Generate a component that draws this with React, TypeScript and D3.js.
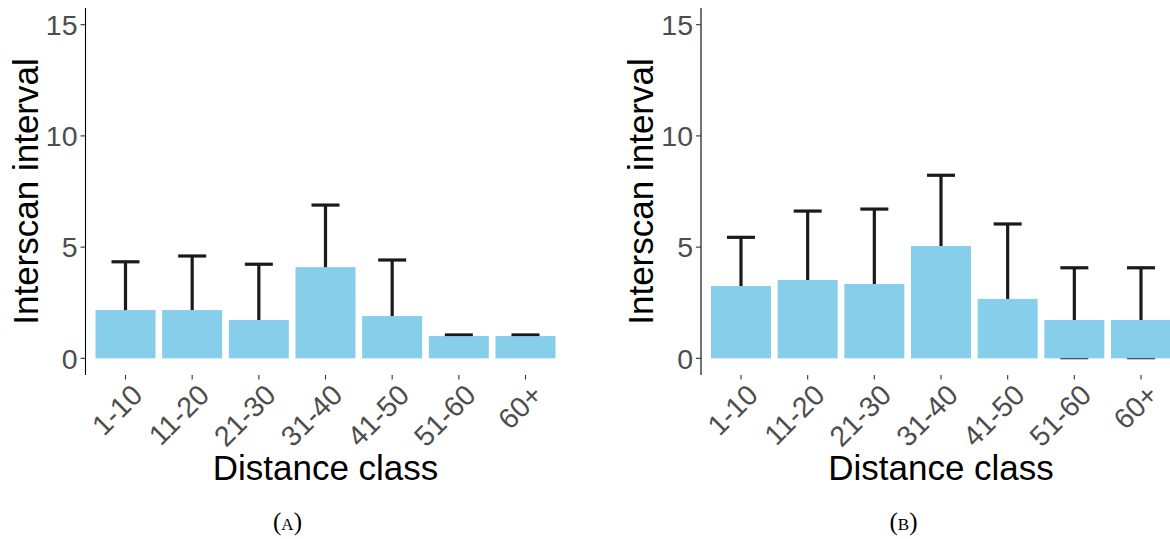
import React from "react";
import * as d3 from "d3";

const categories = ["1-10", "11-20", "21-30", "31-40", "41-50", "51-60", "60+"];

// panel A
const meanA = [2.17, 2.17, 1.72, 4.1, 1.9, 1.0, 1.0];
const upperA = [4.34, 4.6, 4.23, 6.89, 4.42, 1.05, 1.05];
const lowerA = [0.3, 0.2, 0.2, 1.3, 0.2, 0.95, 0.95];

// panel B
const meanB = [3.25, 3.52, 3.34, 5.05, 2.67, 1.72, 1.72];
const upperB = [5.44, 6.62, 6.71, 8.23, 6.04, 4.07, 4.07];
const lowerB = [1.06, 0.42, 0.1, 1.9, 0.3, 0.03, 0.03];

const yTicks = [0, 5, 10, 15];

const W = 1170;
const H = 539;
const TOP = 8;
const BOTTOM = 375;
const PANEL_W = 480;

const sans = "Liberation Sans, Arimo, Arial, sans-serif";

function Panel({ left, mean, upper, lower, caption, captionX }) {
  const x = d3
    .scalePoint()
    .domain(categories)
    .range([left, left + PANEL_W])
    .padding(0.6);
  const step = x.step();
  const y = d3.scaleLinear().domain([-0.75, 15.75]).range([BOTTOM, TOP]);

  const barW = step * 0.9;
  const capW = step * 0.42;
  const rows = categories.map((c, i) => ({ c, m: mean[i], hi: upper[i], lo: lower[i] }));

  return (
    <g>
      {/* error bars first, bars painted over them */}
      {rows.map((d) => (
        <g key={"e" + d.c} stroke="#1a1a1a" strokeWidth={3.2}>
          <line x1={x(d.c)} x2={x(d.c)} y1={y(d.lo)} y2={y(d.hi)} />
          <line x1={x(d.c) - capW / 2} x2={x(d.c) + capW / 2} y1={y(d.hi)} y2={y(d.hi)} />
          <line x1={x(d.c) - capW / 2} x2={x(d.c) + capW / 2} y1={y(d.lo)} y2={y(d.lo)} />
        </g>
      ))}
      {rows.map((d) => (
        <rect
          key={"b" + d.c}
          x={x(d.c) - barW / 2}
          width={barW}
          y={y(d.m)}
          height={y(0) - y(d.m)}
          fill="#87CEEB"
        />
      ))}

      {/* y axis */}
      <line x1={left} x2={left} y1={TOP} y2={BOTTOM} stroke="#000" strokeWidth={1.1} />
      {yTicks.map((t) => (
        <g key={"y" + t}>
          <line x1={left - 5} x2={left} y1={y(t)} y2={y(t)} stroke="#333" strokeWidth={1.1} />
          <text
            x={left - 8}
            y={y(t)}
            dy="0.36em"
            textAnchor="end"
            fontSize={28.5}
            fill="#4d4d4d"
            fontFamily={sans}
          >
            {t}
          </text>
        </g>
      ))}
      <text
        transform={`translate(${left - 48},${(TOP + BOTTOM) / 2}) rotate(-90)`}
        textAnchor="middle"
        fontSize={35}
        fill="#000"
        fontFamily={sans}
      >
        Interscan interval
      </text>

      {/* x axis */}
      {categories.map((c) => (
        <g key={"x" + c}>
          <line x1={x(c)} x2={x(c)} y1={BOTTOM} y2={BOTTOM + 4.5} stroke="#333" strokeWidth={1.1} />
          <text
            transform={`translate(${x(c)},${BOTTOM + 3}) rotate(-45)`}
            dy="0.93em"
            textAnchor="end"
            fontSize={28.5}
            fill="#4d4d4d"
            fontFamily={sans}
          >
            {c}
          </text>
        </g>
      ))}
      <text
        x={left + PANEL_W / 2}
        y={480}
        textAnchor="middle"
        fontSize={35}
        fill="#000"
        fontFamily={sans}
      >
        Distance class
      </text>

      <text
        x={captionX}
        y={530}
        textAnchor="middle"
        fontSize={25}
        fill="#000"
        fontFamily="Liberation Serif, DejaVu Serif, serif"
      >
        (<tspan fontSize={17}>{caption}</tspan>)
      </text>
    </g>
  );
}

export default function App() {
  return (
    <svg
      width={W}
      height={H}
      style={{ position: "absolute", left: 0, top: 0, background: "#fff" }}
    >
      <rect width={W} height={H} fill="#fff" />
      <Panel left={85.5} mean={meanA} upper={upperA} lower={lowerA} caption="A" captionX={287.5} />
      <Panel left={701} mean={meanB} upper={upperB} lower={lowerB} caption="B" captionX={903.5} />
    </svg>
  );
}
